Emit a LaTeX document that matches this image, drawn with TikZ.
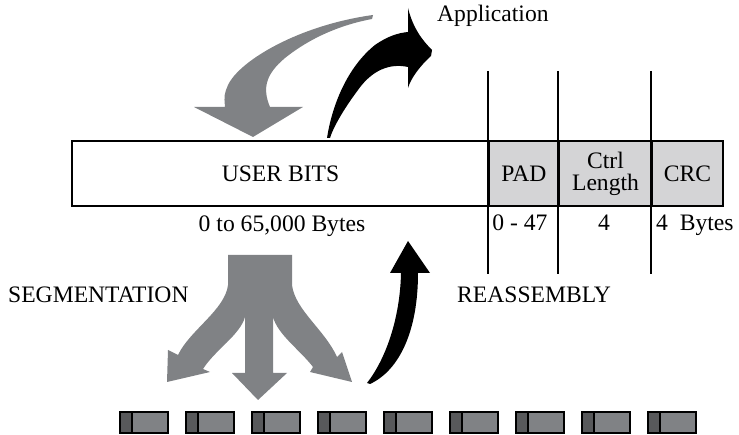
\documentclass[tikz,border=0pt]{standalone}
\usepackage{fontspec}
\setmainfont{Liberation Serif}
\usetikzlibrary{calc}
\definecolor{arrowgrey}{HTML}{808285}
\definecolor{cellgrey}{HTML}{D4D4D6}
\definecolor{segdark}{HTML}{58595B}
\definecolor{seglight}{HTML}{808285}

\begin{document}
\begin{tikzpicture}[x=1pt,y=-1pt,font=\fontsize{23.6}{22}\selectfont,
  field/.style={draw, line width=2pt, minimum height=65pt, inner sep=0pt, align=center},
  divider/.style={line width=1.6pt},
  segbox/.style={draw, line width=1.8pt, fill=seglight, minimum width=48pt, minimum height=21pt, inner sep=0pt,
    path picture={\fill[segdark] (path picture bounding box.north west) rectangle ([xshift=12pt]path picture bounding box.south west);
      \draw[line width=1.8pt] ([xshift=12pt]path picture bounding box.north west) -- ([xshift=12pt]path picture bounding box.south west);}}]
  \useasboundingbox (0,0) rectangle (739,435);

  % frame fields
  \node[field, minimum width=417pt] (user) at (280.5,173.5) {USER BITS};
  \node[field, fill=cellgrey, minimum width=70pt] (pad) at (524,173.5) {PAD};
  \node[field, fill=cellgrey, minimum width=93pt] (ctrl) at (605.5,173.5) {Ctrl\\Length};
  \node[field, fill=cellgrey, minimum width=71pt] (crc) at (687.5,173.5) {CRC};
  \foreach \f in {pad,ctrl,crc}
    \draw[divider] ($(\f.north west)+(0,-69)$) -- ($(\f.south west)+(0,67)$);

  \node[anchor=base] (userlen) at (282,232) {0 to 65,000 Bytes};
  \node[anchor=base] (padlen) at (520,231) {0 - 47};
  \node[anchor=base] (ctrllen) at (604,231) {4};
  \node[anchor=base west, inner sep=0pt] (crclen) at (656,231) {4~~Bytes};

  \node[anchor=base west, inner sep=0pt] (app) at (437,22) {Application};
  \node[anchor=base west, inner sep=0pt] (seg) at (8,303) {SEGMENTATION};
  \node[anchor=base west, inner sep=0pt] (reas) at (457,303) {REASSEMBLY};

  % grey arrow down from the application
  \fill[arrowgrey] (373,15) .. controls (300,25) and (240,60) .. (228,85)
    .. controls (224,95) .. (225,107) -- (194,107) -- (253,137) -- (303,107) -- (270,107)
    .. controls (262,88) and (266,74) .. (285,58) .. controls (310,38) and (340,25) .. (372,19) -- cycle;
  % black arrow up to the application
  \fill (327,138) .. controls (333,100) and (350,65) .. (375,45) .. controls (388,36) and (398,33) .. (408,32)
    -- (408,8) .. controls (413,28) and (422,40) .. (432,50) -- (431,56)
    .. controls (420,66) and (411,78) .. (408,88) -- (408,67)
    .. controls (390,63) and (372,70) .. (358,90) .. controls (343,110) and (333,128) .. (330,138) -- cycle;

  % segmentation
  \fill[arrowgrey] (228,255) -- (292,255) -- (292,285) .. controls (295,310) and (325,330) .. (337,357)
    -- (342,352) -- (352,382) -- (310,372) -- (313,367) .. controls (300,350) and (278,335) .. (273,317)
    -- (273,373) -- (287,373) -- (258,400) -- (232,373) -- (245,373) -- (245,317)
    .. controls (240,335) and (215,350) .. (203,369) -- (210,372) -- (167,382) -- (168,350) -- (178,355)
    .. controls (190,330) and (225,310) .. (228,285) -- cycle;
  % reassembly
  \fill (367,383) .. controls (385,360) and (400,320) .. (401,273) -- (390,273) -- (408,241) -- (430,273)
    -- (418,273) .. controls (418,330) and (400,370) .. (370,384) -- cycle;

  \foreach \i in {0,...,8}
    \node[segbox] (seg\i) at (144+66*\i,422.5) {};
\end{tikzpicture}
\end{document}
